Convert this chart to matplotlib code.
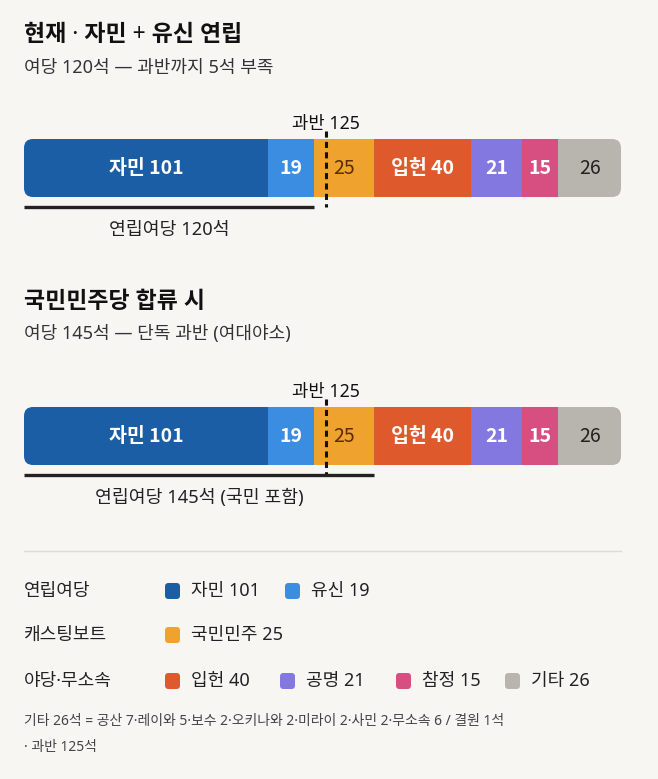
import matplotlib
matplotlib.use("Agg")
import matplotlib.pyplot as plt
from matplotlib.patches import FancyBboxPatch

# latin / digits / middle dot from Noto Sans, hangul falls through to the CJK face
plt.rcParams['font.family'] = ['Noto Sans', 'Noto Sans CJK KR', 'DejaVu Sans']

# data
parties = ['자민', '유신', '국민민주', '입헌', '공명', '참정', '기타']
seats = [101, 19, 25, 40, 21, 15, 26]
seg_labels = ['자민 101', '19', '25', '입헌 40', '21', '15', '26']
colors = ['#1b5ea6', '#3a8de0', '#f0a22e', '#de5a2c', '#8377e0', '#d74f80', '#b7b5ad']
label_colors = ['white', 'white', '#5a2c00', 'white', 'white', 'white', '#222222']
label_bold = [True, True, False, True, True, True, False]
majority = 125
coalition_seats = [120, 145]
coalition_labels = ['연립여당 120석', '연립여당 145석 (국민 포함)']
titles = ['현재 · 자민 + 유신 연립', '국민민주당 합류 시']
subtitles = ['여당 120석 — 과반까지 5석 부족', '여당 145석 — 단독 과반 (여대야소)']
legend_groups = ['연립여당', '캐스팅보트', '야당·무소속']
legend_members = [[0, 1], [2], [3, 4, 5, 6]]
footnote = ['기타 26석 = 공산 7·레이와 5·보수 2·오키나와 2·미라이 2·사민 2·무소속 6 / 결원 1석',
            '· 과반 125석']

W, H = 658, 779
BG = '#f7f6f3'
fig = plt.figure(figsize=(W / 100, H / 100), dpi=100, facecolor=BG)


def fy(y):
    return 1 - y / H


def draw_bar(bar_top, coalition, clabel):
    bh = 58
    ax = fig.add_axes([24 / W, fy(bar_top + bh), 597 / W, bh / H])
    ax.set_xlim(0, sum(seats))
    ax.set_ylim(0, 1)
    ax.axis('off')
    clip = FancyBboxPatch((24 / 100, (H - bar_top - bh) / 100), 597 / 100, bh / 100,
                          boxstyle='round,pad=0,rounding_size=0.09',
                          transform=fig.dpi_scale_trans, facecolor='none', edgecolor='none')
    left = 0
    for val, c, lab, lc, b in zip(seats, colors, seg_labels, label_colors, label_bold):
        bars = ax.barh(0.5, val, left=left, height=1, color=c, linewidth=0)
        for r in bars:
            r.set_clip_path(clip)
        ax.text(left + val / 2, 0.5, lab, ha='center', va='center', color=lc,
                fontsize=14, fontweight='bold' if b else 'normal',
                family=['Noto Sans CJK KR'])
        left += val
    tr = ax.get_xaxis_transform()
    ax.plot([majority, majority], [1 + 8 / bh, -10 / bh], transform=tr, clip_on=False,
            color='#111111', lw=2.2, linestyle=(0, (2, 1.4)))
    ax.text(majority, 1 + 15 / bh, '과반 125', transform=tr, ha='center', va='center',
            fontsize=12.8, color='#111111')
    ax.plot([0, coalition], [-10 / bh, -10 / bh], transform=tr, clip_on=False,
            color='#222222', lw=2.4, solid_capstyle='butt')
    ax.text(coalition / 2, -33 / bh, clabel, transform=tr, ha='center', va='center',
            fontsize=13.2, color='#222222')


fig.text(24 / W, fy(35), titles[0], fontsize=16.5, fontweight='bold', va='center', color='#111111')
fig.text(24 / W, fy(68), subtitles[0], fontsize=13, va='center', color='#333333')
draw_bar(139, coalition_seats[0], coalition_labels[0])

fig.text(24 / W, fy(302), titles[1], fontsize=16.5, fontweight='bold', va='center', color='#111111')
fig.text(24 / W, fy(334), subtitles[1], fontsize=13, va='center', color='#333333')
draw_bar(407, coalition_seats[1], coalition_labels[1])

fig.add_artist(plt.Line2D([24 / W, 621 / W], [fy(551), fy(551)], color='#dddbd6', lw=1))

# legend
row_y = [591, 635, 681]
item_x = [[165, 285], [165], [165, 280, 396, 505]]
for gi, (g, members) in enumerate(zip(legend_groups, legend_members)):
    fig.text(24 / W, fy(row_y[gi]), g, fontsize=13, va='center', color='#222222')
    for k, m in enumerate(members):
        x = item_x[gi][k]
        sq = FancyBboxPatch(((x) / 100, (H - row_y[gi] - 8) / 100), 0.15, 0.16,
                            boxstyle='round,pad=0,rounding_size=0.035',
                            transform=fig.dpi_scale_trans, facecolor=colors[m], edgecolor='none')
        fig.add_artist(sq)
        fig.text((x + 26) / W, fy(row_y[gi]), f'{parties[m]} {seats[m]}', fontsize=13,
                 va='center', color='#222222')

fig.text(24 / W, fy(722), footnote[0], fontsize=10, va='center', color='#444444')
fig.text(24 / W, fy(748), footnote[1], fontsize=10, va='center', color='#444444')

fig.savefig('out.png', dpi=100, facecolor=BG)
